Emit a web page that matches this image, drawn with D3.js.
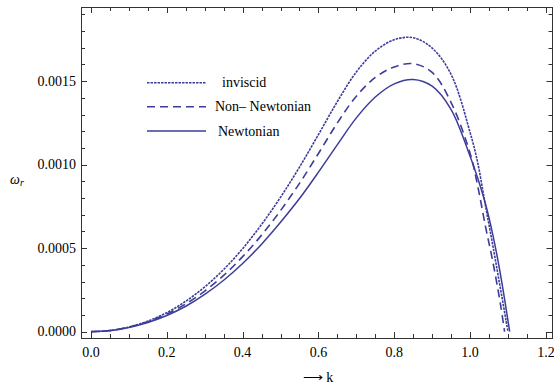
<!DOCTYPE html>
<html>
<head>
<meta charset="utf-8">
<script src="https://cdn.jsdelivr.net/npm/d3@7"></script>
<style>
  html, body { margin: 0; padding: 0; background: #fff; }
  svg { display: block; }
  text { font-family: "Liberation Serif", "Times New Roman", serif; fill: #000; }
</style>
</head>
<body>
<svg id="chart" width="554" height="388"></svg>
<script>
// Wavenumber samples (shared by all three curves) and the cut-off k of each curve
const kSamples = [0, 0.05, 0.1, 0.15, 0.2, 0.25, 0.3, 0.35, 0.4, 0.45, 0.5, 0.55, 0.6,
                  0.65, 0.7, 0.75, 0.8, 0.85, 0.9, 0.95, 1.0, 1.02, 1.04, 1.06, 1.08];

// Growth rate omega_r for each model
const inviscid = [0, 0.000007, 0.000028, 0.000063, 0.000114, 0.000182, 0.000268, 0.000372,
                  0.000497, 0.000642, 0.000805, 0.000985, 0.001180, 0.001378, 0.001555,
                  0.001680, 0.001748, 0.001760, 0.001698, 0.001540, 0.001193, 0.001013,
                  0.000762, 0.000515, 0.000259];
const nonNewtonian = [0, 0.000007, 0.000027, 0.000060, 0.000106, 0.000166, 0.000243, 0.000337,
                      0.000449, 0.000578, 0.000725, 0.000888, 0.001067, 0.001250, 0.001410,
                      0.001522, 0.001585, 0.001605, 0.001552, 0.001372, 0.001068, 0.000874,
                      0.000637, 0.000419, 0.000166];
const newtonian = [0, 0.000006, 0.000025, 0.000055, 0.000097, 0.000152, 0.000223, 0.000308,
                   0.000408, 0.000524, 0.000655, 0.000797, 0.000955, 0.001120, 0.001280,
                   0.001405, 0.001484, 0.001510, 0.001470, 0.001330, 0.001050, 0.000920,
                   0.000770, 0.000580, 0.000345];
const cutoffK = { inviscid: 1.100, nonNewtonian: 1.091, newtonian: 1.1045 };

// Axis tick values and labels
const xMajorTicks = [0, 0.2, 0.4, 0.6, 0.8, 1.0, 1.2];
const xTickLabels = ["0.0", "0.2", "0.4", "0.6", "0.8", "1.0", "1.2"];
const yMajorTicks = [0, 0.0005, 0.0010, 0.0015];
const yTickLabels = ["0.0000", "0.0005", "0.0010", "0.0015"];

// Legend entries
const legendNames = ["inviscid", "Non\u2013 Newtonian", "Newtonian"];

const svg = d3.select("#chart");
const color = "#3d3d99";

const frameL = 81, frameR = 552.5, frameT = 7, frameB = 338;
const x = d3.scaleLinear().domain([-0.0263, 1.2174]).range([frameL, frameR]);
const y = d3.scaleLinear().domain([-0.000038, 0.001944]).range([frameB, frameT]);

// Curves
const series = [
  { key: "inviscid", values: inviscid, dash: "2.5,1", width: 1.6 },
  { key: "nonNewtonian", values: nonNewtonian, dash: "8,5", width: 1.6 },
  { key: "newtonian", values: newtonian, dash: null, width: 1.5 }
];

const line = d3.line()
  .x(d => x(d[0]))
  .y(d => y(d[1]))
  .curve(d3.curveCatmullRom.alpha(0.5));

const plot = svg.append("g");
plot.append("clipPath").attr("id", "clip")
  .append("rect").attr("x", frameL).attr("y", frameT)
  .attr("width", frameR - frameL).attr("height", frameB - frameT);

series.forEach(s => {
  const pts = kSamples.map((k, i) => [k, s.values[i]]);
  pts.push([cutoffK[s.key], 0]);
  plot.append("path")
    .attr("d", line(pts))
    .attr("fill", "none")
    .attr("stroke", color)
    .attr("stroke-width", s.width)
    .attr("stroke-dasharray", s.dash)
    .attr("clip-path", "url(#clip)");
});

// Frame with ticks on all four sides
const frameColor = "#333";
const xMinor = d3.range(1, 25).map(i => i * 0.05).filter(v => !xMajorTicks.some(m => Math.abs(m - v) < 1e-9));
const yMinor = d3.range(1, 20).map(i => i * 0.0001).filter(v => !yMajorTicks.some(m => Math.abs(m - v) < 1e-12));

const axes = svg.append("g").attr("stroke", frameColor).attr("stroke-width", 1);
function tick(x1, y1, x2, y2) {
  axes.append("line").attr("x1", x1).attr("y1", y1).attr("x2", x2).attr("y2", y2);
}
xMajorTicks.forEach(v => { const px = Math.round(x(v)) + 0.5; tick(px, frameB, px, frameB - 6); tick(px, frameT, px, frameT + 6); });
xMinor.forEach(v => { const px = Math.round(x(v)) + 0.5; tick(px, frameB, px, frameB - 4); tick(px, frameT, px, frameT + 4); });
yMajorTicks.forEach(v => { const py = Math.round(y(v)) + 0.5; tick(frameL, py, frameL + 6, py); tick(frameR, py, frameR - 6, py); });
yMinor.forEach(v => { const py = Math.round(y(v)) + 0.5; tick(frameL, py, frameL + 4, py); tick(frameR, py, frameR - 4, py); });

svg.append("rect")
  .attr("x", frameL + 0.5).attr("y", frameT + 0.5)
  .attr("width", frameR - frameL - 0.5).attr("height", frameB - frameT)
  .attr("fill", "none").attr("stroke", frameColor).attr("stroke-width", 1);

// Tick labels
svg.append("g").selectAll("text").data(xMajorTicks).join("text")
  .attr("x", d => x(d)).attr("y", 357)
  .attr("text-anchor", "middle").attr("font-size", 14)
  .text((d, i) => xTickLabels[i]);

svg.append("g").selectAll("text").data(yMajorTicks).join("text")
  .attr("x", 76).attr("y", d => y(d) + 4.5)
  .attr("text-anchor", "end").attr("font-size", 14)
  .text((d, i) => yTickLabels[i]);

// Axis titles
const yt = svg.append("text").attr("x", 10).attr("y", 184).attr("font-size", 14);
yt.append("tspan").attr("font-style", "italic").text("\u03c9");
yt.append("tspan").attr("font-style", "italic").attr("font-size", 10).attr("dy", 2).text("r");

svg.append("text").attr("x", 318).attr("y", 382).attr("text-anchor", "middle")
  .attr("font-size", 14).text("\u27f6 k");

// Legend
const legendRowY = [82.7, 106.7, 131];
const legendTextX = [222, 215, 218];
const legend = svg.append("g");
series.forEach((s, i) => {
  legend.append("line")
    .attr("x1", 147).attr("x2", 206)
    .attr("y1", legendRowY[i]).attr("y2", legendRowY[i])
    .attr("stroke", color).attr("stroke-width", s.width)
    .attr("stroke-dasharray", s.dash);
  legend.append("text")
    .attr("x", legendTextX[i]).attr("y", legendRowY[i] + 4.5)
    .attr("font-size", 14)
    .text(legendNames[i]);
});
</script>
</body>
</html>
